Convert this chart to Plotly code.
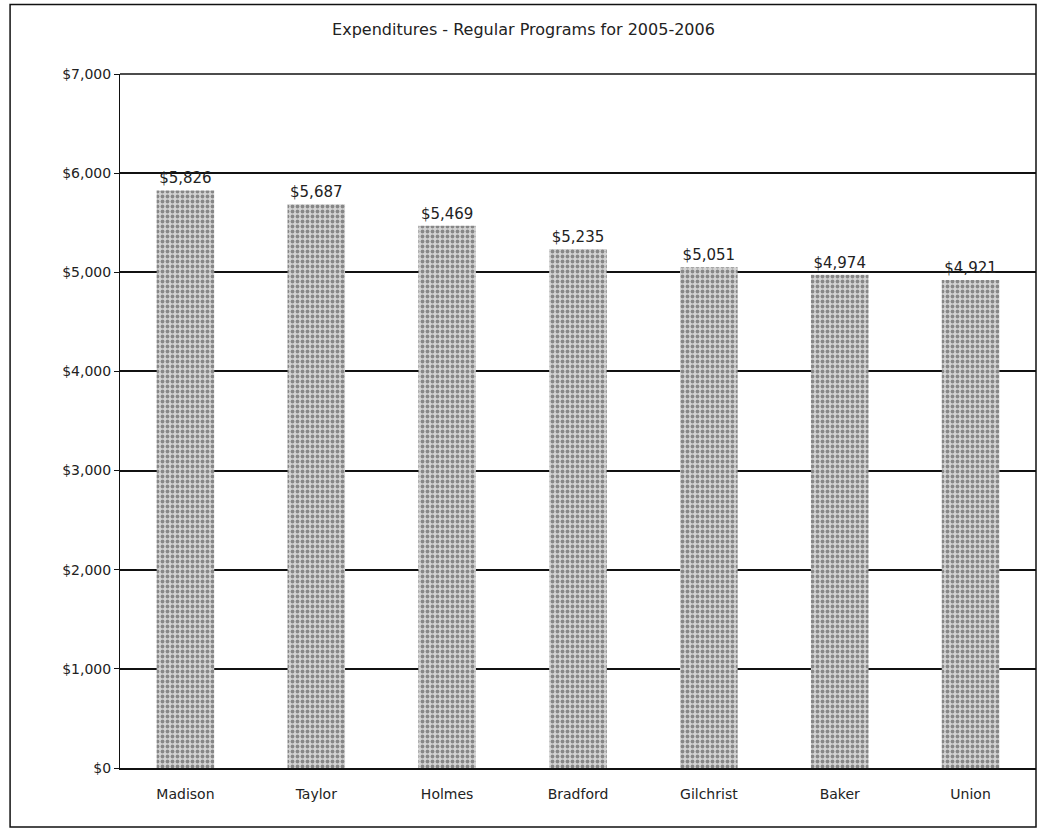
import plotly.graph_objects as go

counties = ["Madison", "Taylor", "Holmes", "Bradford", "Gilchrist", "Baker", "Union"]
expenditures = [5826, 5687, 5469, 5235, 5051, 4974, 4921]
tick_vals = [0, 1000, 2000, 3000, 4000, 5000, 6000, 7000]
tick_text = ["$0", "$1,000", "$2,000", "$3,000", "$4,000", "$5,000", "$6,000", "$7,000"]

fig = go.Figure()
fig.add_trace(go.Bar(
    x=counties,
    y=expenditures,
    width=0.44,
    text=[f"${v:,}" for v in expenditures],
    textposition="outside",
    textfont=dict(size=15, color="#222"),
    cliponaxis=False,
    marker=dict(
        color="#b8b8b8",
        line=dict(width=0),
        pattern=dict(shape=".", fgcolor="#3a3a3a", bgcolor="#d4d4d4", size=5, solidity=0.45),
    ),
))

fig.update_layout(
    width=1047, height=831,
    margin=dict(l=120, r=11, t=74, b=63),
    paper_bgcolor="white",
    plot_bgcolor="white",
    font=dict(family="DejaVu Sans", size=14, color="#222"),
    title=dict(text="Expenditures - Regular Programs for 2005-2006", x=0.5, xanchor="center",
               y=0.965, yanchor="middle", font=dict(size=16, color="#222")),
    showlegend=False,
    yaxis=dict(range=[0, 7000], tickvals=tick_vals, ticktext=tick_text,
               showgrid=True, gridcolor="#111", gridwidth=1.5,
               showline=True, linecolor="#111", linewidth=1,
               ticks="outside", ticklen=5, tickcolor="#111", zeroline=False,
               tickfont=dict(size=14)),
    xaxis=dict(showline=True, linecolor="#111", linewidth=2, ticks="",
               tickfont=dict(size=14), ticklabelstandoff=12),
    shapes=[
        dict(type="line", xref="paper", yref="paper", x0=0, x1=1, y0=1, y1=1,
             line=dict(color="#111", width=1.5)),
        dict(type="rect", xref="paper", yref="paper", x0=-0.12, x1=1.0, y0=-0.085, y1=1.1,
             line=dict(color="#111", width=1.5)),
    ],
)

fig.write_html("out.html")
